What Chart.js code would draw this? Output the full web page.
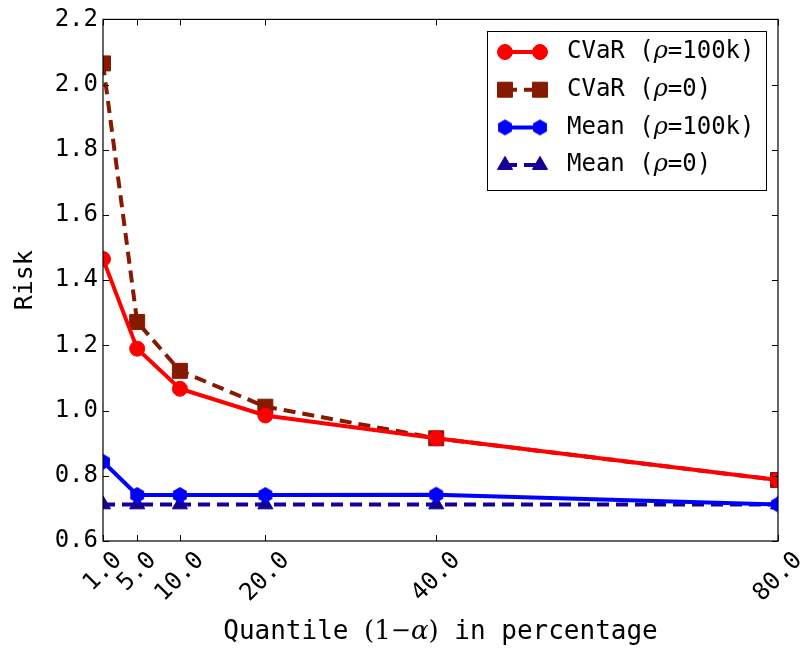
<!DOCTYPE html>
<html>
<head>
<meta charset="utf-8">
<script src="https://cdn.jsdelivr.net/npm/chart.js@4.4.1/dist/chart.umd.min.js"></script>
<style>
  html, body { margin: 0; padding: 0; background: #fff; }
  #wrap { width: 804px; height: 654px; }
</style>
</head>
<body>
<div id="wrap"><canvas id="chart" width="804" height="654"></canvas></div>
<script>
// quantile (1 - alpha) in percent
const quantiles = [1, 5, 10, 20, 40, 80];

const cvarRho100k = [1.465, 1.190, 1.067, 0.985, 0.915, 0.787];
const cvarRho0    = [2.065, 1.272, 1.122, 1.012, 0.915, 0.787];
const meanRho100k = [0.843, 0.741, 0.741, 0.741, 0.742, 0.712];
const meanRho0    = [0.712, 0.712, 0.712, 0.712, 0.712, 0.712];

const seriesNames = ['CVaR', 'CVaR', 'Mean', 'Mean'];
const seriesRho = ['100k', '0', '100k', '0'];

const xTickValues = [1, 5, 10, 20, 40, 80];

const MONO = '"DejaVu Sans Mono", monospace';
const SERIF = '"DejaVu Serif", serif';

const RED = '#ff0000';
const BROWN = '#861a00';
const BLUE = '#0000ff';
const NAVY = '#140096';

function hexagon(color, r) {
  const s = Math.ceil(r * 2 + 2);
  const c = document.createElement('canvas');
  c.width = s; c.height = s;
  const g = c.getContext('2d');
  g.fillStyle = color;
  g.beginPath();
  for (let k = 0; k < 6; k++) {
    const a = -Math.PI / 2 + k * Math.PI / 3;
    const px = s / 2 + r * Math.cos(a), py = s / 2 + r * Math.sin(a);
    k === 0 ? g.moveTo(px, py) : g.lineTo(px, py);
  }
  g.closePath();
  g.fill();
  return c;
}

const toPoints = vals => quantiles.map((q, i) => ({ x: q, y: vals[i] }));

function series(i, vals, color, dash, style, radius, order) {
  return {
    label: seriesNames[i] + ' (ρ=' + seriesRho[i] + ')',
    data: toPoints(vals),
    borderColor: color,
    backgroundColor: color,
    borderWidth: 4,
    borderDash: dash,
    pointStyle: style,
    pointRadius: radius,
    pointHoverRadius: radius,
    pointBorderWidth: 1,
    pointBorderColor: color,
    pointBackgroundColor: color,
    tension: 0,
    order: order
  };
}

const datasets = [
  series(0, cvarRho100k, RED, [], 'circle', 7.5, 0),
  series(1, cvarRho0, BROWN, [12, 7], 'rect', 10.6, 1),
  series(2, meanRho100k, BLUE, [], hexagon(BLUE, 8), 8, 0),
  series(3, meanRho0, NAVY, [12, 7], 'triangle', 8.7, 1)
];

// frame, inward ticks, rotated x labels, axis titles and legend (matplotlib look)
const decorations = {
  id: 'decorations',
  afterDraw(chart) {
    const ctx = chart.ctx;
    const a = chart.chartArea;
    const xs = chart.scales.x, ys = chart.scales.y;
    ctx.save();

    ctx.strokeStyle = '#000';
    ctx.lineWidth = 1.2;
    ctx.strokeRect(a.left, a.top, a.right - a.left, a.bottom - a.top);

    const tl = 6;
    ctx.lineWidth = 1;
    ctx.beginPath();
    xTickValues.forEach(v => {
      const px = Math.round(xs.getPixelForValue(v)) + 0.5;
      ctx.moveTo(px, a.bottom); ctx.lineTo(px, a.bottom - tl);
      ctx.moveTo(px, a.top); ctx.lineTo(px, a.top + tl);
    });
    ys.ticks.forEach(t => {
      const py = Math.round(ys.getPixelForValue(t.value)) + 0.5;
      ctx.moveTo(a.left, py); ctx.lineTo(a.left + tl, py);
      ctx.moveTo(a.right, py); ctx.lineTo(a.right - tl, py);
    });
    ctx.stroke();

    // x tick labels, rotated 45 deg, centred on the tick
    const fs = 24;
    ctx.fillStyle = '#000';
    ctx.font = fs + 'px ' + MONO;
    ctx.textAlign = 'center';
    ctx.textBaseline = 'middle';
    xTickValues.forEach(v => {
      const txt = v.toFixed(1);
      const w = ctx.measureText(txt).width;
      const h = fs * 0.9;
      const px = xs.getPixelForValue(v);
      const cy = a.bottom + 8 + (w + h) * Math.SQRT1_2 / 2;
      ctx.save();
      ctx.translate(px, cy);
      ctx.rotate(-Math.PI / 4);
      ctx.fillText(txt, 0, 0);
      ctx.restore();
    });

    // y title
    ctx.save();
    ctx.font = '25px ' + MONO;
    ctx.translate(25, (a.top + a.bottom) / 2);
    ctx.rotate(-Math.PI / 2);
    ctx.fillText('Risk', 0, 0);
    ctx.restore();

    // x title with math part
    const parts = [
      ['Quantile ', '26px ' + MONO],
      ['(1', '26px ' + SERIF],
      ['−', '24px ' + SERIF],
      ['α', 'italic 26px ' + SERIF],
      [')', '26px ' + SERIF],
      [' in percentage', '26px ' + MONO]
    ];
    drawParts(ctx, parts, (a.left + a.right) / 2, 632, true);

    // legend
    const bx = 487.5, by = 31.5, bw = 279, bh = 159;
    ctx.fillStyle = '#fff';
    ctx.fillRect(bx, by, bw, bh);
    ctx.strokeStyle = '#000';
    ctx.lineWidth = 1;
    ctx.strokeRect(bx, by, bw, bh);
    chart.data.datasets.forEach((ds, i) => {
      const y = 52 + i * 37.7;
      const x0 = 505, x1 = 540;
      ctx.save();
      ctx.strokeStyle = ds.borderColor;
      ctx.lineWidth = ds.borderWidth;
      ctx.setLineDash(ds.borderDash);
      ctx.beginPath();
      ctx.moveTo(x0, y); ctx.lineTo(x1, y);
      ctx.stroke();
      ctx.setLineDash([]);
      ctx.fillStyle = ds.pointBackgroundColor;
      ctx.strokeStyle = ds.pointBorderColor;
      ctx.lineWidth = 1;
      [x0, x1].forEach(px => Chart.helpers.drawPoint(ctx, {
        pointStyle: ds.pointStyle, radius: ds.pointRadius, rotation: 0, borderWidth: 1
      }, px, y));
      ctx.restore();
      ctx.fillStyle = '#000';
      drawParts(ctx, [
        [seriesNames[i] + ' (', '24px ' + MONO],
        ['ρ', 'italic 24px ' + SERIF],
        ['=' + seriesRho[i] + ')', '24px ' + MONO]
      ], 567, y, false);
    });

    ctx.restore();
  }
};

function drawParts(ctx, parts, x, y, centred) {
  ctx.textBaseline = 'middle';
  ctx.textAlign = 'left';
  let total = 0;
  parts.forEach(p => { ctx.font = p[1]; total += ctx.measureText(p[0]).width; });
  let cx = centred ? x - total / 2 : x;
  parts.forEach(p => {
    ctx.font = p[1];
    ctx.fillText(p[0], cx, y);
    cx += ctx.measureText(p[0]).width;
  });
}

new Chart(document.getElementById('chart'), {
  type: 'line',
  data: { datasets: datasets },
  options: {
    responsive: false,
    animation: false,
    layout: { padding: { top: 19, right: 26, left: 0, bottom: 0 } },
    plugins: { legend: { display: false }, tooltip: { enabled: false } },
    scales: {
      x: {
        type: 'linear',
        min: 1,
        max: 80,
        grid: { display: false, drawTicks: false },
        border: { display: false },
        ticks: { display: false },
        afterBuildTicks: s => { s.ticks = xTickValues.map(v => ({ value: v })); },
        afterFit: s => { s.height = 113; }
      },
      y: {
        min: 0.6,
        max: 2.2,
        grid: { display: false, drawTicks: false },
        border: { display: false },
        ticks: {
          stepSize: 0.2,
          padding: 5,
          color: '#000',
          font: { family: MONO, size: 24 },
          callback: v => v.toFixed(1)
        },
        afterFit: s => { s.width = 103; }
      }
    }
  },
  plugins: [decorations]
});
</script>
</body>
</html>
